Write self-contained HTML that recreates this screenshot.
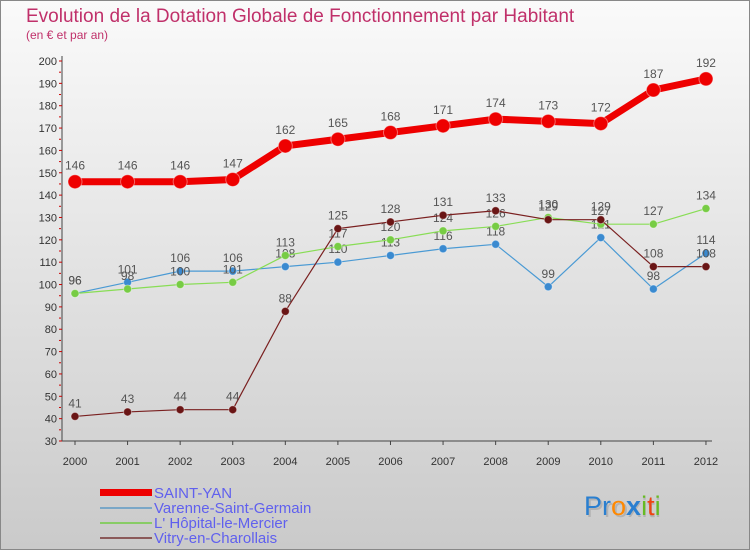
<!DOCTYPE html>
<html><head><meta charset="utf-8"><style>
html,body{margin:0;padding:0}
body{width:750px;height:550px;overflow:hidden;font-family:"Liberation Sans",sans-serif}
</style></head><body>
<svg width="750" height="550" xmlns="http://www.w3.org/2000/svg">
<defs><linearGradient id="bg" x1="0" y1="0" x2="0" y2="1"><stop offset="0" stop-color="#fafafa"/><stop offset="1" stop-color="#cacaca"/></linearGradient></defs>
<rect x="0.5" y="0.5" width="749" height="549" fill="url(#bg)" stroke="#888"/>
<text x="26" y="22" font-size="19" fill="#c0306a">Evolution de la Dotation Globale de Fonctionnement par Habitant</text>
<text x="26" y="39" font-size="12" fill="#c0306a">(en € et par an)</text>
<g id="axes"></g>
<g id="series"></g>
<g id="legend" font-size="15" fill="#6060ee">
<rect x="100" y="489" width="52" height="7" fill="#e00"/>
<text x="154" y="498">SAINT-YAN</text>
<rect x="100" y="507" width="52" height="2" fill="#7aa7c7"/>
<text x="154" y="513">Varenne-Saint-Germain</text>
<rect x="100" y="522" width="52" height="2" fill="#88cc66"/>
<text x="154" y="528">L' Hôpital-le-Mercier</text>
<rect x="100" y="537" width="52" height="2" fill="#8b5a5a"/>
<text x="154" y="543">Vitry-en-Charollais</text>
</g>
<g font-size="27">
<text x="586" y="517" fill="#999" opacity="0.5">Proxiti</text>
<text x="584" y="515"><tspan fill="#2a7fd0">Pr</tspan><tspan fill="#ff8800">o</tspan><tspan fill="#2a7fd0" font-weight="bold">x</tspan><tspan fill="#66bb22">i</tspan><tspan fill="#ee4411">t</tspan><tspan fill="#66bb22">i</tspan></text>
</g>
</svg>
<script>
const years=["2000","2001","2002","2003","2004","2005","2006","2007","2008","2009","2010","2011","2012"];
const yTicks=[30,40,50,60,70,80,90,100,110,120,130,140,150,160,170,180,190,200];
const saintYan=[146,146,146,147,162,165,168,171,174,173,172,187,192];
const varenne=[96,101,106,106,108,110,113,116,118,99,121,98,114];
const hopital=[96,98,100,101,113,117,120,124,126,130,127,127,134];
const vitry=[41,43,44,44,88,125,128,131,133,129,129,108,108];
const NS="http://www.w3.org/2000/svg";
const X=i=>75+i*52.58;
const Y=v=>441-(v-30)*380/170;
function mk(t,a,p){const e=document.createElementNS(NS,t);for(const k in a)e.setAttribute(k,a[k]);p.appendChild(e);return e;}
const ax=document.getElementById('axes');
mk('line',{x1:62,y1:Y(200)-5,x2:62,y2:Y(30),stroke:'#444'},ax);
mk('line',{x1:62,y1:Y(30),x2:712,y2:Y(30),stroke:'#444'},ax);
yTicks.forEach(v=>{
 const t=mk('text',{x:57,y:Y(v)+4,'font-size':11,'text-anchor':'end',fill:'#333'},ax);t.textContent=v;
 
 
 mk('line',{x1:59,y1:Y(v),x2:62,y2:Y(v),stroke:'#c00'},ax);
 if(v<200)mk('line',{x1:59,y1:Y(v+5),x2:61,y2:Y(v+5),stroke:'#c00'},ax);
});
years.forEach((y,i)=>{
 const t=mk('text',{x:X(i),y:465,'font-size':11,'text-anchor':'middle',fill:'#333'},ax);t.textContent=y;
 
 
 mk('line',{x1:X(i),y1:Y(30),x2:X(i),y2:Y(30)+4,stroke:'#444'},ax);
});
const sg=document.getElementById('series');
function draw(data,color,dot,w,r,name){
 const g=mk('g',{},sg);
 
 
 mk('polyline',{points:data.map((v,i)=>X(i)+','+Y(v)).join(' '),fill:'none',stroke:color,'stroke-width':w,'stroke-linejoin':'round'},g);
 data.forEach((v,i)=>{
  const c=mk('circle',{cx:X(i),cy:Y(v),r:r,fill:dot,stroke:'#fff','stroke-opacity':0.4},g);
  
  
  const t=mk('text',{x:X(i),y:Y(v)-(r+5),'font-size':12,'text-anchor':'middle',fill:'#555'},g);t.textContent=v;
  
  
 });
}
draw(varenne,'#4a9ad4','#3a8ad0',1.2,4,'varenne');
draw(hopital,'#88dd55','#77cc44',1.2,4,'hopital');
draw(vitry,'#7a2020','#6a1515',1.2,4,'vitry');
draw(saintYan,'#ee0000','#ee0000',7,7,'saint-yan');
</script>
</body></html>
